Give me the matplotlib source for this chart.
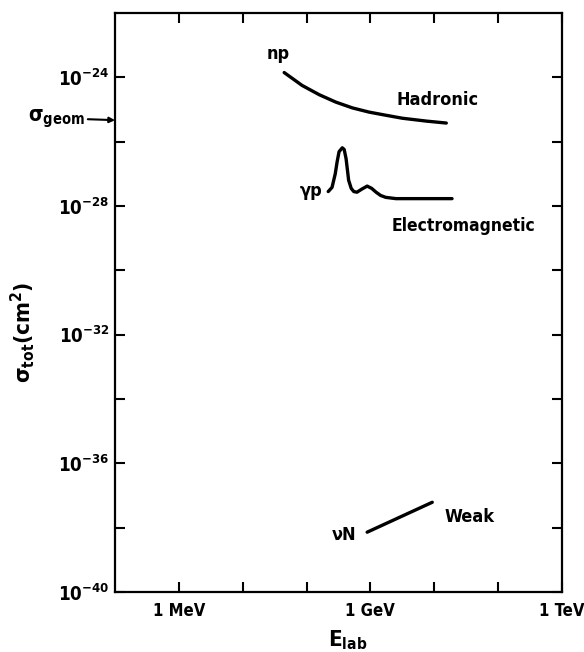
import numpy as np
import matplotlib.pyplot as plt

plt.rcParams['font.family'] = ['DejaVu Sans']
plt.rcParams['font.stretch'] = 'condensed'
plt.rcParams['font.weight'] = 'bold'
plt.rcParams['axes.labelweight'] = 'bold'
plt.rcParams['mathtext.fontset'] = 'dejavusans'
plt.rcParams['mathtext.default'] = 'bf'

# energies in log10(E / MeV), cross sections in log10(sigma / cm^2)
hadronic_loge = [1.65, 1.93, 2.20, 2.46, 2.72, 2.98, 3.25, 3.50, 3.88, 4.19]
hadronic_logs = [-23.85, -24.25, -24.54, -24.77, -24.95, -25.08, -25.18,
                 -25.27, -25.36, -25.42]

em_loge = [2.34, 2.40, 2.45, 2.48, 2.51, 2.56, 2.59, 2.62, 2.66, 2.70, 2.74,
           2.79, 2.87, 2.95, 3.02, 3.09, 3.16, 3.24, 3.40, 4.28]
em_logs = [-27.55, -27.42, -27.00, -26.62, -26.31, -26.19, -26.24, -26.53,
           -27.20, -27.45, -27.55, -27.57, -27.47, -27.38, -27.45, -27.57,
           -27.67, -27.73, -27.77, -27.77]

weak_loge = [2.95, 3.97]
weak_logs = [-38.14, -37.21]

sigma_geom_log = -25.33

x_ticks = [0, 1, 2, 3, 4, 5, 6]
x_labels = ['1 MeV', '', '', '1 GeV', '', '', '1 TeV']
y_ticks = [-40, -38, -36, -34, -32, -30, -28, -26, -24]
y_labels = ['10$^{-40}$', '', '10$^{-36}$', '', '10$^{-32}$', '',
            '10$^{-28}$', '', '10$^{-24}$']


def to_val(a):
    return 10.0 ** np.array(a)


fig = plt.figure(figsize=(5.84, 6.52), dpi=100)
ax = fig.add_axes([0.197, 0.092, 0.765, 0.888])
ax.set_xscale('log')
ax.set_yscale('log')
ax.set_xlim(1e-1, 1e6)
ax.set_ylim(1e-40, 1e-22)

lw = 2.4
ax.plot(to_val(hadronic_loge), to_val(hadronic_logs), color='black', lw=lw,
        solid_capstyle='round', solid_joinstyle='round')
ax.plot(to_val(em_loge), to_val(em_logs), color='black', lw=lw,
        solid_capstyle='round', solid_joinstyle='round')
ax.plot(to_val(weak_loge), to_val(weak_logs), color='black', lw=lw,
        solid_capstyle='round')

ax.set_xticks(to_val(x_ticks))
ax.set_xticklabels(x_labels, fontsize=12)
ax.set_yticks(to_val(y_ticks))
ax.set_yticklabels(y_labels, fontsize=13.5)
ax.minorticks_off()
ax.tick_params(which='major', direction='in', length=7.5, width=1.5,
               top=True, right=True)
ax.tick_params(axis='x', pad=7)
ax.tick_params(axis='y', pad=4)
for sp in ax.spines.values():
    sp.set_linewidth(1.6)

fs = 13
ax.text(10 ** 1.37, 10 ** -23.44, 'np', fontsize=fs, ha='left', va='baseline')
ax.text(10 ** 3.41, 10 ** -24.86, 'Hadronic', fontsize=fs, ha='left', va='baseline')
ax.text(10 ** 2.25, 10 ** -27.70, 'γp', fontsize=fs, ha='right', va='baseline')
ax.text(10 ** 3.34, 10 ** -28.78, 'Electromagnetic', fontsize=12.5, ha='left', va='baseline')
ax.text(10 ** 2.78, 10 ** -38.38, 'νN', fontsize=fs, ha='right', va='baseline')
ax.text(10 ** 4.16, 10 ** -37.83, 'Weak', fontsize=fs, ha='left', va='baseline')

ax.annotate('σ$_{geom}$', xy=(1e-1, 10 ** sigma_geom_log),
            xytext=(-30, 2), textcoords='offset pixels',
            fontsize=15, ha='right', va='center', annotation_clip=False,
            arrowprops=dict(arrowstyle='-|>', color='black', lw=1.5,
                            shrinkA=0, shrinkB=0, mutation_scale=8))

ax.set_xlabel('E$_{lab}$', fontsize=16)
ax.xaxis.set_label_coords(0.521, -0.062)
ax.set_ylabel('σ$_{tot}$(cm$^2$)', fontsize=16)
ax.yaxis.set_label_coords(-0.175, 0.449)

fig.savefig('out.png', dpi=100)
